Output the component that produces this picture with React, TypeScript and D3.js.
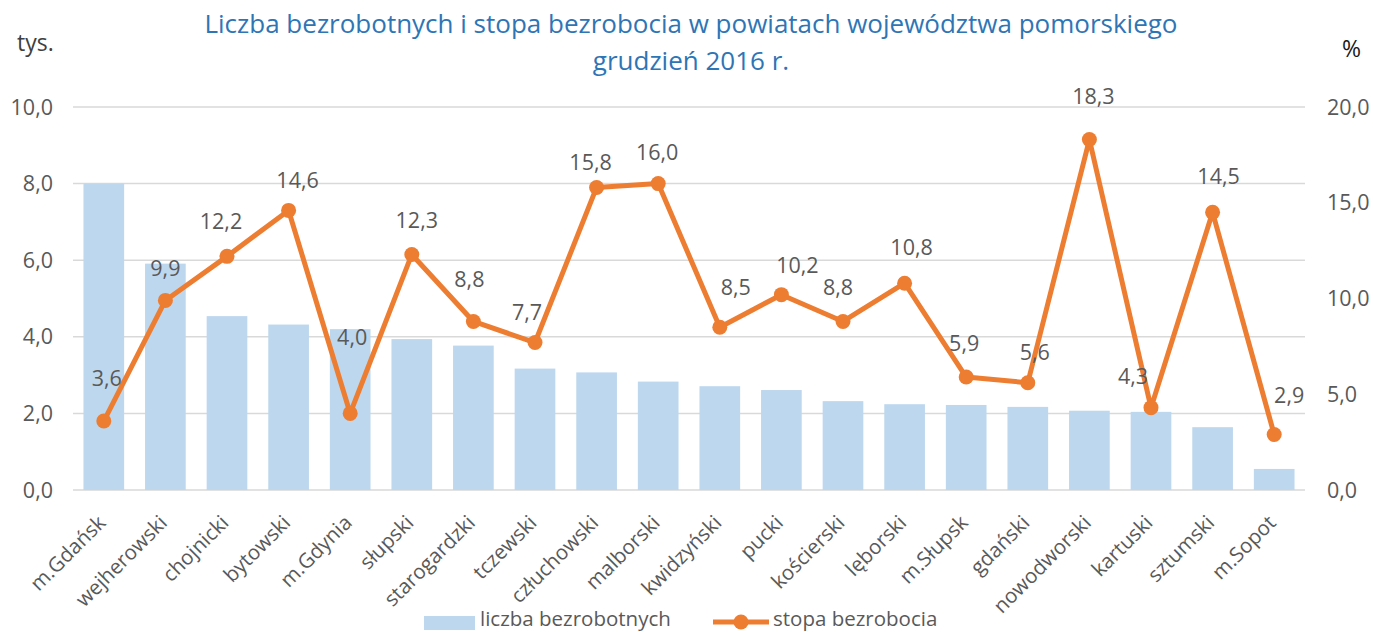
import React from "react";
import * as d3 from "d3";

const categories = [
  "m.Gdańsk", "wejherowski", "chojnicki", "bytowski", "m.Gdynia", "słupski",
  "starogardzki", "tczewski", "człuchowski", "malborski", "kwidzyński", "pucki",
  "kościerski", "lęborski", "m.Słupsk", "gdański", "nowodworski", "kartuski",
  "sztumski", "m.Sopot",
];
const liczbaBezrobotnych = [
  8.0, 5.91, 4.54, 4.32, 4.2, 3.94, 3.77, 3.17, 3.07, 2.83, 2.71, 2.61, 2.32,
  2.24, 2.22, 2.17, 2.07, 2.04, 1.64, 0.55,
];
const stopaBezrobocia = [
  3.6, 9.9, 12.2, 14.6, 4.0, 12.3, 8.8, 7.7, 15.8, 16.0, 8.5, 10.2, 8.8, 10.8,
  5.9, 5.6, 18.3, 4.3, 14.5, 2.9,
];
const leftTicks = [0, 2, 4, 6, 8, 10];
const rightTicks = [0, 5, 10, 15, 20];
const titleLines = [
  "Liczba bezrobotnych i stopa bezrobocia w powiatach województwa pomorskiego",
  "grudzień 2016 r.",
];
const seriesNames = ["liczba bezrobotnych", "stopa bezrobocia"];
// label nudges (dx, dy) relative to the point, as placed in the original
const labelNudge: [number, number][] = [
  [3, -43], [0, -32], [-6, -35], [9, -30], [2, -76], [5, -34], [-4, -42],
  [-8, -30], [-6, -25], [-1, -31], [16, -40], [16, -29], [-5, -34], [7, -36],
  [-2, -34], [7, -30], [4, -43], [-18, -31], [6, -36], [15, -39],
];

const W = 1373;
const H = 632;
const M = { left: 73, right: 1305, top: 107, bottom: 490 };
const FONT = "'Open Sans', sans-serif";
const BAR = "#BDD7EE";
const LINE = "#ED7D31";
const TXT = "#595959";
const GRID = "#D9D9D9";
const FS = 21.5;

const fmt = (v: number) => v.toFixed(1).replace(".", ",");

export default function App() {
  const x = d3
    .scaleBand<string>()
    .domain(categories)
    .range([M.left, M.right])
    .paddingInner(0.34)
    .paddingOuter(0.17);
  const yL = d3.scaleLinear().domain([0, 10]).range([M.bottom, M.top]);
  const yR = d3.scaleLinear().domain([0, 20]).range([M.bottom, M.top]);
  const cx = (c: string) => (x(c) as number) + x.bandwidth() / 2;

  const line = d3
    .line<number>()
    .x((_, i) => cx(categories[i]))
    .y((d) => yR(d));

  return (
    <svg
      width={W}
      height={H}
      style={{ position: "absolute", left: 0, top: 0, background: "#fff" }}
      fontFamily={FONT}
    >
      {/* title */}
      <text x={691} y={33} textAnchor="middle" fontSize={26} fill="#2E75B6">
        {titleLines[0]}
      </text>
      <text x={691} y={70} textAnchor="middle" fontSize={26} fill="#2E75B6">
        {titleLines[1]}
      </text>
      {/* axis units */}
      <text x={17} y={51} fontSize={23} fill="#404040">tys.</text>
      <text x={1342} y={57} fontSize={23} fill="#1a1a1a">%</text>

      {/* gridlines */}
      {leftTicks.map((t) => (
        <line
          key={"g" + t}
          x1={M.left}
          x2={M.right}
          y1={yL(t)}
          y2={yL(t)}
          stroke={GRID}
          strokeWidth={1.5}
        />
      ))}
      {/* left ticks */}
      {leftTicks.map((t) => (
        <text
          key={"l" + t}
          x={53}
          y={yL(t)}
          dy="0.35em"
          textAnchor="end"
          fontSize={FS}
          fill={TXT}
        >
          {fmt(t)}
        </text>
      ))}
      {/* right ticks */}
      {rightTicks.map((t) => (
        <text
          key={"r" + t}
          x={1327}
          y={yR(t)}
          dy="0.35em"
          textAnchor="start"
          fontSize={FS}
          fill={TXT}
        >
          {fmt(t)}
        </text>
      ))}

      {/* bars */}
      {categories.map((c, i) => (
        <rect
          key={"b" + c}
          x={x(c)}
          y={yL(liczbaBezrobotnych[i])}
          width={x.bandwidth()}
          height={yL(0) - yL(liczbaBezrobotnych[i])}
          fill={BAR}
        />
      ))}

      {/* line */}
      <path
        d={line(stopaBezrobocia) || ""}
        fill="none"
        stroke={LINE}
        strokeWidth={5}
        strokeLinejoin="round"
      />
      {stopaBezrobocia.map((v, i) => (
        <circle
          key={"c" + i}
          cx={cx(categories[i])}
          cy={yR(v)}
          r={7.5}
          fill={LINE}
        />
      ))}
      {/* data labels */}
      {stopaBezrobocia.map((v, i) => (
        <text
          key={"t" + i}
          x={cx(categories[i]) + labelNudge[i][0]}
          y={yR(v) + labelNudge[i][1]}
          dy="0.35em"
          textAnchor="middle"
          fontSize={FS}
          fill={TXT}
        >
          {fmt(v)}
        </text>
      ))}

      {/* x labels */}
      {categories.map((c) => (
        <text
          key={"x" + c}
          transform={`translate(${cx(c) + 3},${524}) rotate(-45)`}
          textAnchor="end"
          fontSize={20.5}
          fill={TXT}
        >
          {c}
        </text>
      ))}

      {/* legend */}
      <rect x={424} y={616} width={51} height={14} fill={BAR} />
      <text x={480} y={626} fontSize={20.5} fill={TXT}>{seriesNames[0]}</text>
      <line x1={713} x2={769} y1={622} y2={622} stroke={LINE} strokeWidth={5} />
      <circle cx={741} cy={622} r={7.5} fill={LINE} />
      <text x={773} y={626} fontSize={20.5} fill={TXT}>{seriesNames[1]}</text>
    </svg>
  );
}
